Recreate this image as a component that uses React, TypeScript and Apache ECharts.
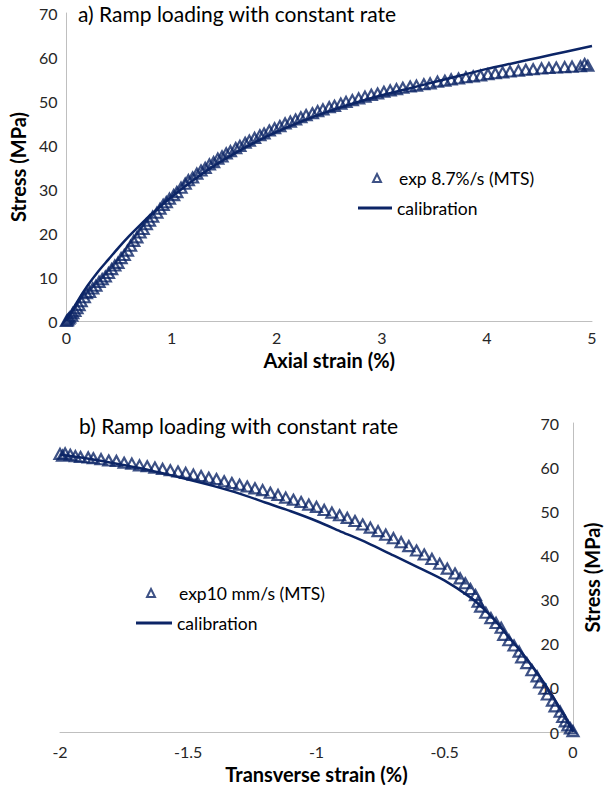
import React, { useEffect, useRef } from "react";
import * as echarts from "echarts";

// ---- (a) axial strain vs stress ----
const axialExpStrain = [
  0, 0.01, 0.02, 0.03, 0.05, 0.06, 0.08, 0.1, 0.12, 0.14, 0.17, 0.19, 0.22, 0.25, 0.28, 0.31,
  0.34, 0.37, 0.4, 0.43, 0.46, 0.49, 0.52, 0.55, 0.58, 0.61, 0.64, 0.67, 0.7, 0.73, 0.76, 0.79,
  0.82, 0.86, 0.89, 0.92, 0.95, 0.98, 1.02, 1.05, 1.09, 1.13, 1.16, 1.2, 1.24, 1.28, 1.32, 1.36,
  1.4, 1.44, 1.48, 1.52, 1.56, 1.61, 1.65, 1.7, 1.74, 1.79, 1.84, 1.88, 1.93, 1.98, 2.03, 2.08,
  2.13, 2.18, 2.23, 2.28, 2.34, 2.39, 2.44, 2.5, 2.55, 2.61, 2.66, 2.72, 2.78, 2.84, 2.9, 2.96,
  3.02, 3.08, 3.14, 3.2, 3.27, 3.33, 3.4, 3.46, 3.53, 3.6, 3.66, 3.73, 3.8, 3.87, 3.94, 4.01,
  4.08, 4.15, 4.22, 4.3, 4.37, 4.44, 4.52, 4.59, 4.66, 4.74, 4.81, 4.89, 4.93, 4.96,
];
const axialExpStress = [
  0, 0.2, 0.5, 0.8, 1.2, 1.8, 2.3, 2.9, 3.6, 4.5, 5.4, 6.3, 6.6, 7.4, 8.0, 8.9,
  9.5, 10.1, 10.9, 11.8, 12.6, 13.2, 14.3, 15.0, 16.0, 17.1, 18.2, 19.0, 20.1, 20.9, 22.0, 22.8,
  23.7, 24.6, 25.5, 26.4, 27.0, 27.8, 28.6, 29.3, 30.3, 31.2, 32.0, 32.6, 33.5, 34.2, 34.8, 35.6,
  36.1, 36.9, 37.4, 38.1, 38.6, 39.3, 39.8, 40.5, 41.0, 41.6, 42.2, 42.6, 43.3, 43.8, 44.3, 44.9,
  45.3, 45.8, 46.3, 46.8, 47.2, 47.7, 48.1, 48.6, 48.9, 49.4, 49.8, 50.2, 50.6, 51.0, 51.4, 51.7,
  52.1, 52.4, 52.7, 53.0, 53.3, 53.5, 53.8, 54.0, 54.4, 54.6, 54.9, 55.1, 55.4, 55.6, 55.8, 56.1,
  56.3, 56.5, 56.7, 56.9, 57.1, 57.2, 57.4, 57.5, 57.6, 57.7, 57.8, 57.9, 58.4, 58.0,
];
const axialCalStrain = [
  0, 0.1, 0.2, 0.3, 0.4, 0.5, 0.6, 0.7, 0.8, 0.9, 1.0, 1.2, 1.4, 1.6, 1.8, 2.0,
  2.25, 2.5, 2.75, 3.0, 3.25, 3.5, 3.75, 4.0, 4.25, 4.5, 4.75, 5.0,
];
const axialCalStress = [
  0, 4.3, 8.0, 11.2, 14.0, 16.8, 19.4, 21.8, 24.1, 26.2, 28.2, 31.9, 35.2, 38.1, 40.7, 43.0,
  45.5, 47.7, 49.6, 51.3, 52.8, 54.3, 55.8, 57.3, 58.6, 59.9, 61.2, 62.5,
];

// ---- (b) transverse strain vs stress ----
const transExpStrain = [
  -2.0, -1.99, -1.98, -1.96, -1.94, -1.92, -1.89, -1.87, -1.84, -1.81, -1.78, -1.75, -1.72, -1.69,
  -1.66, -1.63, -1.6, -1.57, -1.54, -1.51, -1.48, -1.45, -1.42, -1.39, -1.36, -1.33, -1.3, -1.27,
  -1.24, -1.21, -1.18, -1.15, -1.12, -1.09, -1.06, -1.03, -1.0, -0.97, -0.94, -0.91, -0.88, -0.85,
  -0.82, -0.79, -0.76, -0.73, -0.7, -0.67, -0.64, -0.61, -0.58, -0.55, -0.52, -0.49, -0.46, -0.44,
  -0.42, -0.4, -0.38, -0.37, -0.36, -0.34, -0.32, -0.3, -0.28, -0.27, -0.25, -0.23, -0.21, -0.2,
  -0.18, -0.16, -0.14, -0.13, -0.11, -0.1, -0.08, -0.07, -0.05, -0.04, -0.03, -0.02, -0.01, 0.0, 0.01,
];
const transExpStress = [
  63.0, 62.6, 63.1, 62.8, 62.5, 62.3, 62.2, 62.0, 61.8, 61.5, 61.4, 61.0, 60.8, 60.4,
  60.2, 59.9, 59.6, 59.3, 59.0, 58.7, 58.3, 58.0, 57.6, 57.3, 56.8, 56.4, 56.0, 55.6,
  55.2, 54.8, 54.2, 53.7, 53.1, 52.6, 52.1, 51.5, 51.0, 50.3, 49.7, 49.1, 48.5, 47.8,
  47.0, 46.3, 45.5, 44.7, 43.9, 43.0, 42.1, 41.1, 40.2, 39.2, 38.1, 37.0, 35.9, 34.8,
  33.7, 32.4, 31.0, 29.5, 28.4, 27.0, 25.8, 24.7, 23.6, 22.0, 20.8, 19.6, 18.2, 16.9,
  15.6, 14.0, 12.6, 11.2, 9.8, 8.5, 7.1, 5.8, 4.6, 3.4, 2.4, 1.5, 0.8, 0.2, 0.0,
];
const transCalStrain = [
  -2.0, -1.9, -1.8, -1.7, -1.6, -1.5, -1.4, -1.3, -1.2, -1.1, -1.0, -0.9, -0.8, -0.7, -0.6,
  -0.5, -0.4, -0.35, -0.3, -0.25, -0.2, -0.15, -0.1, -0.05, 0,
];
const transCalStress = [
  62.8, 62.0, 61.0, 59.9, 58.6, 57.2, 55.7, 54.0, 52.0, 50.0, 47.8, 45.3, 42.8, 40.0, 37.2,
  34.3, 30.5, 28.0, 25.0, 21.5, 18.0, 14.2, 10.0, 5.3, 0,
];

const axialTicks = { min: 0, max: 5, interval: 1 };
const transTicks = { min: -2, max: 0, interval: 0.5 };
const stressTicks = { min: 0, max: 70, interval: 10 };

const NAVY = "#0c2566";
const FONT = "Lato";
const TEXT = "#262626";

const pairs = (xs: number[], ys: number[]) => xs.map((x, i) => [x, ys[i]]);

export default function App() {
  const ref = useRef<HTMLDivElement>(null);

  useEffect(() => {
    document.body.style.margin = "0";
    if (!ref.current) return;
    const chart = echarts.init(ref.current, undefined, { renderer: "svg" });

    const axisLine = { show: true, onZero: false, lineStyle: { color: "#bfbfbf", width: 1 } };
    const tickLabel = { fontFamily: FONT, fontSize: 16, color: TEXT };
    const axisName = { fontFamily: FONT, fontSize: 20, fontWeight: "bold" as const, color: "#000" };
    const triangle = {
      symbol: "triangle",
      symbolSize: [11, 10],
      itemStyle: { color: "transparent", borderColor: NAVY, borderWidth: 2.2 },
    };
    const calLine = {
      type: "line" as const,
      showSymbol: false,
      symbol: "none",
      smooth: 0.3,
      lineStyle: { color: NAVY, width: 2.5 },
      itemStyle: { color: NAVY },
    };
    const legendText = { fontFamily: FONT, fontSize: 17.5, color: "#000" };
    const titleStyle = { fontFamily: FONT, fontSize: 21, fontWeight: "normal" as const, color: "#000" };

    chart.setOption({
      animation: false,
      title: [
        { text: "a) Ramp loading with constant rate", left: 78, top: 3, padding: 0, textStyle: titleStyle },
        { text: "b) Ramp loading with constant rate", left: 79, top: 415, padding: 0, textStyle: titleStyle },
      ],
      legend: [
        {
          data: ["exp 8.7%/s (MTS)"],
          left: 372,
          top: 169,
          padding: 0,
          selectedMode: false,
          itemWidth: 8,
          itemHeight: 8,
          textStyle: { ...legendText, padding: [0, 0, 0, 13] },
        },
        {
          data: [{ name: "calibration", icon: "rect" }],
          left: 358,
          top: 199,
          padding: 0,
          selectedMode: false,
          itemWidth: 34,
          itemHeight: 3,
          textStyle: legendText,
        },
        {
          data: ["exp10 mm/s (MTS)"],
          left: 146,
          top: 584,
          padding: 0,
          selectedMode: false,
          itemWidth: 8,
          itemHeight: 8,
          textStyle: { ...legendText, padding: [0, 0, 0, 19] },
        },
        {
          data: [{ name: "calibration", icon: "rect" }],
          left: 136,
          top: 614,
          padding: 0,
          selectedMode: false,
          itemWidth: 36,
          itemHeight: 3,
          textStyle: legendText,
        },
      ],
      grid: [
        { left: 62, top: 13, width: 530, height: 308 },
        { left: 60, top: 423, width: 516, height: 309 },
      ],
      xAxis: [
        {
          type: "value",
          gridIndex: 0,
          ...axialTicks,
          position: "bottom",
          axisLine,
          axisTick: { show: false },
          splitLine: { show: false },
          axisLabel: { ...tickLabel, margin: 8 },
          name: "Axial strain (%)",
          nameLocation: "middle",
          nameGap: 29,
          nameTextStyle: axisName,
        },
        {
          type: "value",
          gridIndex: 1,
          ...transTicks,
          position: "bottom",
          axisLine,
          axisTick: { show: false },
          splitLine: { show: false },
          axisLabel: { ...tickLabel, margin: 11 },
          name: "Transverse strain (%)",
          nameLocation: "middle",
          nameGap: 32,
          nameTextStyle: axisName,
        },
      ],
      yAxis: [
        {
          type: "value",
          gridIndex: 0,
          ...stressTicks,
          position: "left",
          axisLine,
          axisTick: { show: false },
          splitLine: { show: false },
          axisLabel: { ...tickLabel, margin: 9 },
          name: "Stress (MPa)",
          nameLocation: "middle",
          nameRotate: 90,
          nameGap: 34,
          nameTextStyle: axisName,
        },
        {
          type: "value",
          gridIndex: 1,
          ...stressTicks,
          position: "right",
          axisLine,
          axisTick: { show: false },
          splitLine: { show: false },
          axisLabel: { ...tickLabel, inside: true, margin: 14 },
          name: "Stress (MPa)",
          nameLocation: "middle",
          nameRotate: 90,
          nameGap: 9,
          nameTextStyle: axisName,
        },
      ],
      series: [
        {
          name: "exp 8.7%/s (MTS)",
          type: "scatter",
          xAxisIndex: 0,
          yAxisIndex: 0,
          ...triangle,
          data: pairs(axialExpStrain, axialExpStress),
        },
        {
          name: "calibration",
          ...calLine,
          xAxisIndex: 0,
          yAxisIndex: 0,
          data: pairs(axialCalStrain, axialCalStress),
        },
        {
          name: "exp10 mm/s (MTS)",
          type: "scatter",
          xAxisIndex: 1,
          yAxisIndex: 1,
          ...triangle,
          data: pairs(transExpStrain, transExpStress),
        },
        {
          name: "calibration",
          ...calLine,
          xAxisIndex: 1,
          yAxisIndex: 1,
          data: pairs(transCalStrain, transCalStress),
        },
      ],
    });

    return () => chart.dispose();
  }, []);

  return <div ref={ref} style={{ width: 610, height: 785 }} />;
}
